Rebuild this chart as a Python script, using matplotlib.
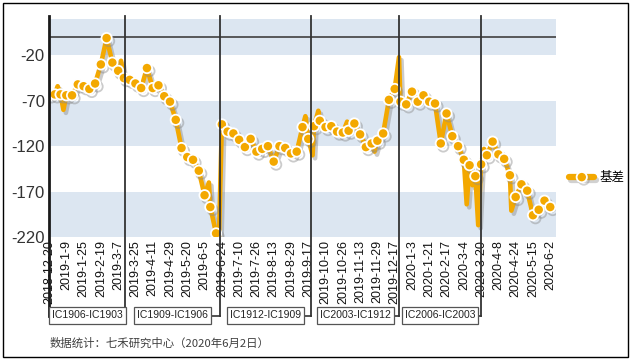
import numpy as np
import matplotlib
matplotlib.use("Agg")
import matplotlib.pyplot as plt
import matplotlib.transforms as mtransforms
import matplotlib.patheffects as pe
from matplotlib.lines import Line2D
from matplotlib.patches import Rectangle

# ---------------- data ----------------
tick_labels = ["2018-12-20", "2019-1-9", "2019-1-25", "2019-2-19", "2019-3-7",
               "2019-3-25", "2019-4-11", "2019-4-29", "2019-5-20", "2019-6-5",
               "2019-6-24", "2019-7-10", "2019-7-26", "2019-8-13", "2019-8-29",
               "2019-9-17", "2019-10-10", "2019-10-26", "2019-11-13", "2019-11-29",
               "2019-12-17", "2020-1-3", "2020-1-21", "2020-2-17", "2020-3-4",
               "2020-3-20", "2020-4-8", "2020-4-24", "2020-5-15", "2020-6-2"]
label_step = 12          # trading days between tick labels
marker_step = 4          # trading days between plotted markers
n_days_axis = 353        # category slots on the axis

# basis values sampled every 4 trading days (markers)
basis = [-63, -63, -63, -64, -64, -52, -54, -57, -51, -30,
         -1, -28, -37, -45, -47, -51, -56, -34, -56, -53,
         -65, -71, -91, -122, -132, -135, -147, -174, -187, -216,
         -96, -104, -106, -113, -121, -112, -126, -123, -120, -137,
         -120, -122, -128, -126, -99, -112, -98, -92, -99, -98,
         -104, -105, -103, -95, -107, -121, -117, -114, -106, -69,
         -57, -71, -74, -60, -71, -64, -71, -73, -117, -84,
         -109, -120, -135, -141, -153, -140, -130, -115, -129, -134,
         -152, -176, -162, -169, -196, -190, -180, -187]

# intermediate daily extremes the line passes through (trading-day index, value)
spike_days = [6, 10, 50, 111, 118, 178, 183, 187, 207, 226, 243, 290, 294, 298, 302, 321]
spike_vals = [-54, -80, -26, -160, -222, -87, -130, -81, -93, -126, -22, -184, -163, -207, -123, -191]

# contract roll boundaries (trading-day index) and contract labels
roll_days = [0, 53, 119, 182, 243, 300]
contracts = ["IC1906-IC1903", "IC1909-IC1906", "IC1912-IC1909", "IC2003-IC1912", "IC2006-IC2003"]

yticks = [-220, -170, -120, -70, -20]
ylim = (-220, 20)
bands = [(-220, -170), (-120, -70), (-20, 20)]

footer = "数据统计：七禾研究中心（2020年6月2日）"
legend_label = "基差"

# ---------------- style ----------------
orange = "#F3A800"
band_color = "#DCE6F1"
dark = "#333333"

fig = plt.figure(figsize=(6.33, 3.6), dpi=100)
ax = fig.add_axes([49 / 633, 1 - 237 / 360, 507 / 633, 218 / 360])

for lo, hi in bands:
    ax.axhspan(lo, hi, color=band_color, lw=0, zorder=0)

ax.axhline(0, color="#404040", lw=1.2, zorder=1)

mx = np.arange(len(basis)) * marker_step
lx = np.concatenate([mx, spike_days])
ly = np.concatenate([basis, spike_vals])
order = np.argsort(lx, kind="stable")
lx, ly = lx[order], ly[order]

shadow = [pe.SimpleLineShadow(offset=(1.8, -2.2), shadow_color="#8c8c8c", alpha=0.45), pe.Normal()]
ax.plot(lx, ly, color=orange, lw=3.3, solid_joinstyle="round", zorder=3, path_effects=shadow)
ax.plot(mx, basis, ls="none", marker="o", ms=7.4, mfc=orange, mec="white", mew=1.3,
        zorder=4, path_effects=shadow)

ax.set_xlim(0, n_days_axis - 1)
ax.set_ylim(*ylim)
ax.set_yticks(yticks)
ax.set_yticklabels([str(v) for v in yticks], fontsize=12, color=dark, family="Liberation Sans")
ax.set_xticks(np.arange(len(tick_labels)) * label_step)
ax.set_xticklabels(tick_labels, rotation=90, fontsize=9, color="#111111", family="Liberation Sans")
ax.tick_params(axis="both", length=0)
ax.tick_params(axis="x", pad=2)
ax.tick_params(axis="y", pad=3)
for s in ax.spines.values():
    s.set_visible(False)

trans = mtransforms.blended_transform_factory(ax.transData, ax.transAxes)
y_low = (237 - 316) / 218
y_top = 1.012
for j, b in enumerate(roll_days):
    ax.plot([b, b], [y_low, y_top], transform=trans, clip_on=False,
            color="#1a1a1a" if j == 0 else "#333333", lw=2.0 if j == 0 else 1.3, zorder=5)

y_box = (237 - 315.5) / 218
for j, name in enumerate(contracts):
    c = (roll_days[j] + roll_days[j + 1]) / 2
    ax.plot([c, roll_days[j + 1]], [y_low, y_low], transform=trans, clip_on=False,
            color="#333333", lw=1.2, zorder=5)
    ax.text(c, y_box, name, transform=trans, ha="center", va="center", fontsize=7.5,
            family="Liberation Sans", color="#222222", zorder=6,
            bbox=dict(boxstyle="square,pad=0.3", fc="white", ec="#555555", lw=0.9))

fig.text(50 / 633, 1 - 343 / 360, footer, fontsize=8.2, color="#404040",
         family=["Noto Sans CJK SC", "DejaVu Sans"], ha="left", va="center")

h = Line2D([], [], color=orange, lw=4.5, marker="o", ms=7.4, mfc=orange, mec="white", mew=1.3,
           solid_capstyle="round",
           path_effects=[pe.SimpleLineShadow(offset=(1.5, -1.8), shadow_color="#8c8c8c", alpha=0.4), pe.Normal()])
fig.legend(handles=[h], labels=[legend_label], loc="center left",
           bbox_to_anchor=(558 / 633, 1 - 178 / 360), frameon=False, handlelength=2.0,
           handletextpad=0.4, prop={"family": ["Noto Sans CJK SC", "DejaVu Sans"], "size": 9})

fig.patches.append(Rectangle((3 / 633, 3 / 360), 625 / 633, 354 / 360, transform=fig.transFigure,
                             fill=False, ec="black", lw=1.0))

fig.savefig("out.png", dpi=100)
